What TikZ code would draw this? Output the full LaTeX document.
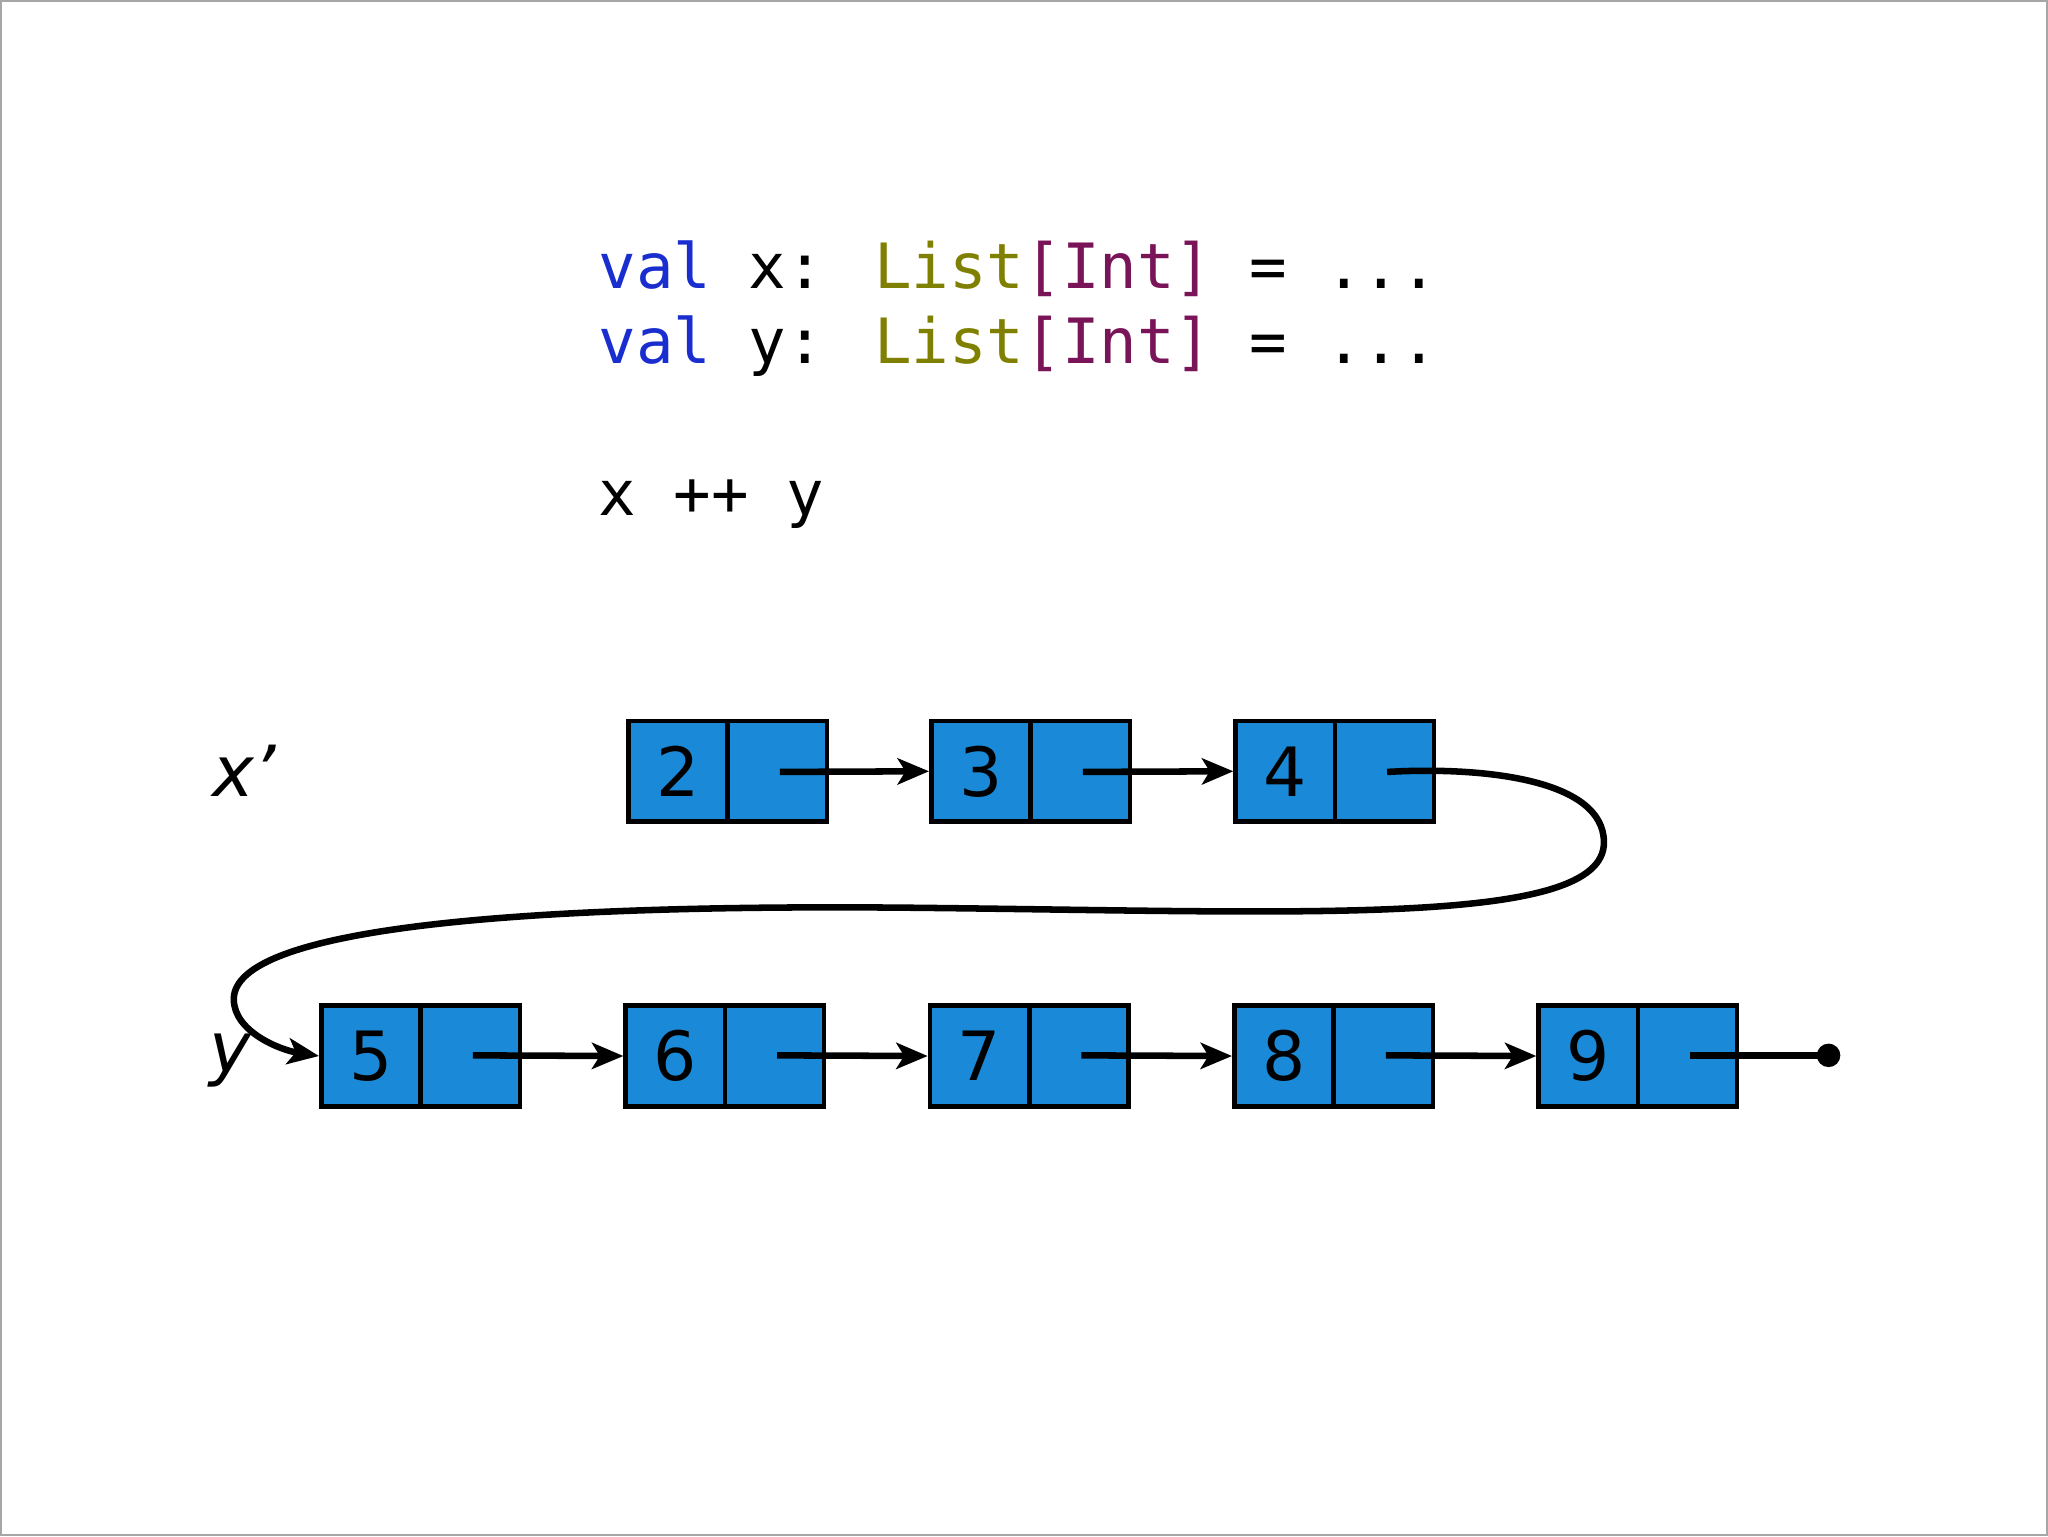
\documentclass[tikz,border=0pt]{standalone}
\usepackage{fontspec}
\setmainfont{DejaVu Sans}
\newfontfamily\codefont{DejaVu Sans Mono}
\usetikzlibrary{arrows.meta}
\definecolor{kw}{HTML}{1A2ED0}
\definecolor{ty}{HTML}{808000}
\definecolor{br}{HTML}{7A1458}
\definecolor{cell}{HTML}{1A8AD8}
\begin{document}
\begin{tikzpicture}[x=1pt,y=-1pt,
  cellbox/.style={draw=black,line width=3.5pt,fill=cell,minimum width=76pt,minimum height=77pt,inner sep=0pt,font=\fontsize{52}{52}\selectfont},
  ptr/.style={line width=5pt,-{Stealth[length=24pt,width=20pt,inset=6pt]}},
  code/.style={anchor=base west,inner sep=0pt,font=\codefont\fontsize{47.8}{47.8}\selectfont},
  lab/.style={font=\itshape\fontsize{54}{54}\selectfont}]
\useasboundingbox (0,0) rectangle (1568,1176);
\draw[gray!70,line width=1.5pt] (0.5,0.5) rectangle (1567.5,1175.5);
\node[code] (l1) at (458,221) {\textcolor{kw}{val} x: \textcolor{ty}{List}\textcolor{br}{[Int]} = ...};
\node[code] (l2) at (458,278) {\textcolor{kw}{val} y: \textcolor{ty}{List}\textcolor{br}{[Int]} = ...};
\node[code] (l3) at (458,395) {x ++ y};
\node[lab] (xl) at (187,590) {x’};
\node[lab] (yl) at (176,812) {y};
\foreach \n/\x in {2/481,3/713,4/946}{
  \node[cellbox] (v\n) at (\x+38,590.5) {\n};
  \node[cellbox] (p\n) at (\x+114,590.5) {};
  \coordinate (c\n) at (\x+116,591);
}
\foreach \n/\x in {5/246,6/479,7/712,8/945,9/1178}{
  \node[cellbox] (v\n) at (\x+38,808.5) {\n};
  \node[cellbox] (p\n) at (\x+114,808.5) {};
  \coordinate (c\n) at (\x+116,808);
}
\draw[ptr] (c2) -- (v3.west);
\draw[ptr] (c3) -- (v4.west);
\draw[ptr] (c5) -- (v6.west);
\draw[ptr] (c6) -- (v7.west);
\draw[ptr] (c7) -- (v8.west);
\draw[ptr] (c8) -- (v9.west);
\coordinate (nil) at (1400,808);
\draw[line width=5pt] (c9) -- (nil);
\fill (nil) circle (9pt);
\coordinate (m1) at (1228,645);
\coordinate (m2) at (700,695);
\coordinate (m3) at (179,765);
\draw[ptr] (c4) .. controls (1130,587) and (1228,595) .. (m1)
  .. controls (1228,710) and (1000,698) .. (m2)
  .. controls (400,692) and (179,710) .. (m3)
  .. controls (179,790) and (215,804) .. (v5.west);
\end{tikzpicture}
\end{document}
